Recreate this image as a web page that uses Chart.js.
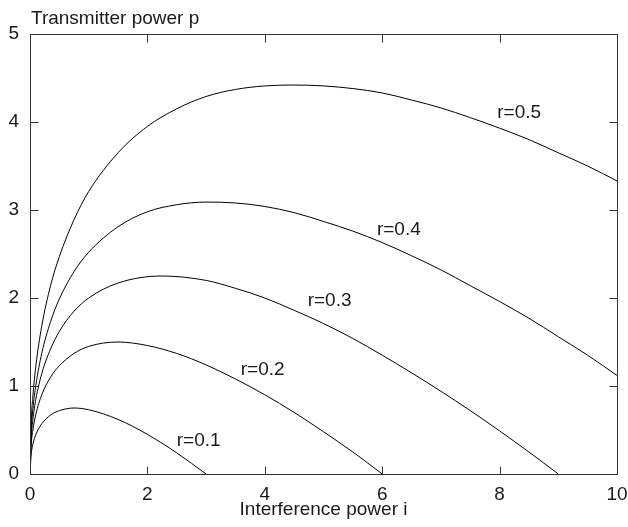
<!DOCTYPE html>
<html>
<head>
<meta charset="utf-8">
<script src="https://cdn.jsdelivr.net/npm/chart.js@4/dist/chart.umd.min.js"></script>
<style>
  html, body { margin: 0; padding: 0; background: #fff; }
  #wrap { width: 628px; height: 527px; }
</style>
</head>
<body>
<div id="wrap"><canvas id="powerChart" width="628" height="527"></canvas></div>
<script>
'use strict'

// interference power i (x values sampled along each curve) and transmitter power p
let iR01 = [0, 0.02, 0.05, 0.1, 0.2, 0.35, 0.5, 0.75, 1, 1.5, 2, 2.5, 3]
let pR01 = [0, 0.22, 0.34, 0.45, 0.57, 0.67, 0.72, 0.75, 0.73, 0.62, 0.45, 0.24, 0]

let iR02 = [0, 0.02, 0.05, 0.1, 0.2, 0.35, 0.5, 0.75, 1, 1.5, 2, 2.5, 3, 3.5, 4, 4.5, 5, 5.5, 6]
let pR02 = [0, 0.33, 0.50, 0.68, 0.90, 1.10, 1.23, 1.37, 1.45, 1.50, 1.46, 1.37, 1.24, 1.08, 0.90, 0.70, 0.48, 0.25, 0]

let iR03 = [0, 0.02, 0.05, 0.1, 0.2, 0.35, 0.5, 0.75, 1, 1.5, 2.25, 3, 3.5, 4, 4.5, 5, 5.5, 6, 6.5, 7, 7.5, 8, 8.5, 9]
let pR03 = [0, 0.40, 0.62, 0.85, 1.14, 1.42, 1.62, 1.85, 2.00, 2.17, 2.25, 2.20, 2.11, 2.00, 1.86, 1.71, 1.54, 1.35, 1.15, 0.94, 0.72, 0.49, 0.25, 0]

let iR04 = [0, 0.02, 0.05, 0.1, 0.2, 0.35, 0.5, 0.75, 1, 1.5, 2, 2.5, 3, 3.5, 4, 4.5, 5, 5.5, 6, 6.5, 7, 7.5, 8, 8.5, 9, 9.5, 10]
let pR04 = [0, 0.48, 0.74, 1.01, 1.37, 1.73, 1.99, 2.30, 2.52, 2.81, 2.98, 3.06, 3.09, 3.08, 3.04, 2.97, 2.87, 2.76, 2.63, 2.48, 2.32, 2.14, 1.96, 1.77, 1.56, 1.35, 1.12]

let iR05 = [0, 0.02, 0.05, 0.1, 0.2, 0.35, 0.5, 0.75, 1, 1.5, 2, 2.5, 3, 3.5, 4, 4.5, 5, 5.5, 6, 6.5, 7, 7.5, 8, 8.5, 9, 9.5, 10]
let pR05 = [0, 0.58, 0.89, 1.23, 1.68, 2.14, 2.47, 2.89, 3.21, 3.65, 3.95, 4.15, 4.29, 4.37, 4.41, 4.42, 4.41, 4.38, 4.33, 4.25, 4.16, 4.05, 3.93, 3.80, 3.65, 3.50, 3.33]

let curveNames = ['r=0.1', 'r=0.2', 'r=0.3', 'r=0.4', 'r=0.5']
// where each curve name is written (i, p of text start / baseline)
let nameI = [2.50, 3.59, 4.73, 5.91, 7.96]
let nameP = [0.32, 1.12, 1.91, 2.72, 4.05]

let xTicks = [0, 2, 4, 6, 8, 10]
let yTicks = [0, 1, 2, 3, 4, 5]

const FONT = '"Liberation Sans", Arial, Helvetica, sans-serif'
const INK = '#1a1a1a'

function pairs(xs, ys){
    return xs.map((x, k) => ({x: x, y: ys[k]}))
}

let allI = [iR01, iR02, iR03, iR04, iR05]
let allP = [pR01, pR02, pR03, pR04, pR05]

let datasets = curveNames.map((name, k) => ({
    label: name,
    data: pairs(allI[k], allP[k]),
    showLine: true,
    borderColor: '#000',
    borderWidth: 1,
    pointRadius: 0,
    fill: false,
    cubicInterpolationMode: 'monotone'
}))

// frame, inward ticks and text labels (gnuplot look)
const framePlugin = {
    id: 'framePlugin',
    afterDatasetsDraw(chart){
        let c = chart.ctx
        let a = chart.chartArea
        let xs = chart.scales.x
        let ys = chart.scales.y
        let L = Math.round(a.left) + 0.5
        let R = Math.round(a.right) + 0.5
        let T = Math.round(a.top) + 0.5
        let B = Math.round(a.bottom) + 0.5
        let len = 8

        c.save()
        c.strokeStyle = '#333'
        c.lineWidth = 1
        c.strokeRect(L, T, R - L, B - T)

        c.beginPath()
        xTicks.forEach(v => {
            let px = Math.round(xs.getPixelForValue(v)) + 0.5
            c.moveTo(px, B); c.lineTo(px, B - len)
            c.moveTo(px, T); c.lineTo(px, T + len)
        })
        yTicks.forEach(v => {
            let py = Math.round(ys.getPixelForValue(v)) + 0.5
            c.moveTo(L, py); c.lineTo(L + len, py)
            c.moveTo(R, py); c.lineTo(R - len, py)
        })
        c.stroke()

        c.fillStyle = INK
        c.font = '19px ' + FONT
        c.textAlign = 'left'
        c.textBaseline = 'alphabetic'
        curveNames.forEach((name, k) => {
            c.fillText(name, xs.getPixelForValue(nameI[k]), ys.getPixelForValue(nameP[k]))
        })

        // y axis title sits above the plot
        c.fillText('Transmitter power p', a.left + 1, 24)
        c.restore()
    }
}

let powerChart = new Chart(document.getElementById('powerChart').getContext('2d'), {
    type: 'scatter',
    data: { datasets: datasets },
    options: {
        responsive: false,
        animation: false,
        events: [],
        layout: { padding: { top: 34, right: 11, left: 0, bottom: 0 } },
        plugins: {
            legend: { display: false },
            tooltip: { enabled: false }
        },
        scales: {
            x: {
                type: 'linear',
                min: 0,
                max: 10,
                afterBuildTicks(scale){ scale.ticks = xTicks.map(v => ({value: v})) },
                afterFit(scale){
                    scale.height = 53
                    scale.paddingLeft = 0
                    scale.paddingRight = 0
                },
                grid: { display: false, drawTicks: false },
                border: { display: false },
                ticks: {
                    color: INK,
                    padding: 9,
                    maxRotation: 0,
                    font: { family: FONT, size: 19 }
                },
                title: {
                    display: true,
                    text: 'Interference power i',
                    color: INK,
                    padding: { top: 0, bottom: 6 },
                    font: { family: FONT, size: 19 }
                }
            },
            y: {
                type: 'linear',
                min: 0,
                max: 5,
                afterBuildTicks(scale){ scale.ticks = yTicks.map(v => ({value: v})) },
                afterFit(scale){ scale.width = 30 },
                grid: { display: false, drawTicks: false },
                border: { display: false },
                ticks: {
                    color: INK,
                    padding: 11,
                    font: { family: FONT, size: 19 }
                }
            }
        }
    },
    plugins: [framePlugin]
})
</script>
</body>
</html>
